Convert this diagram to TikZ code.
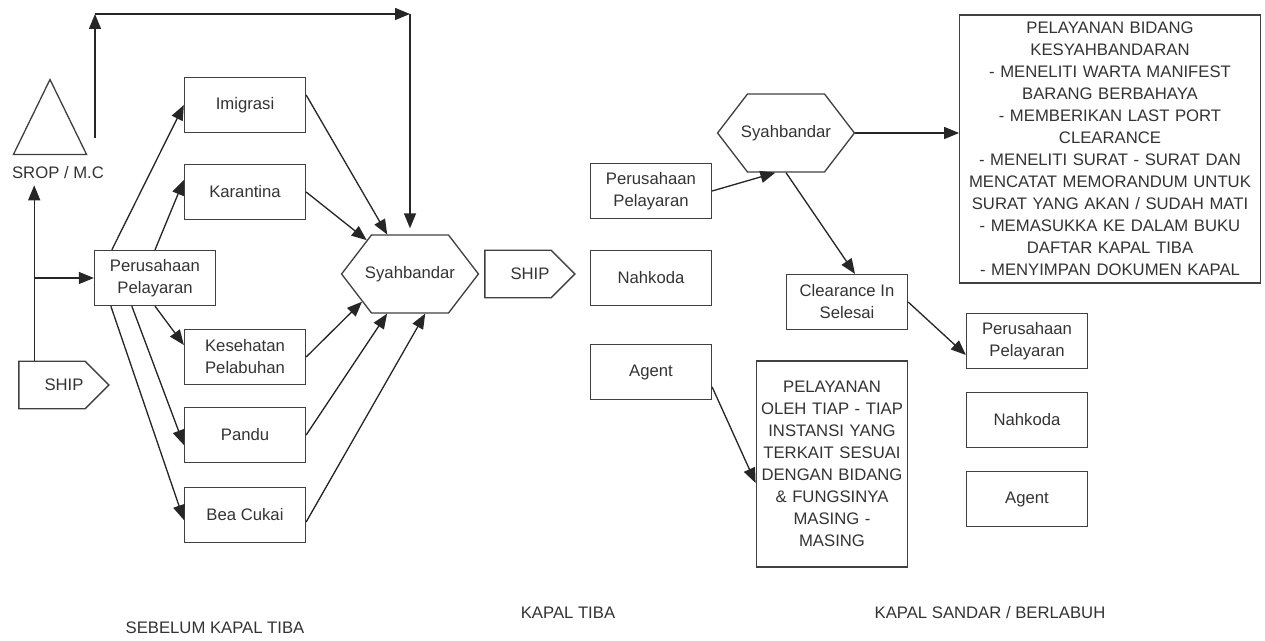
\documentclass[tikz,border=0pt]{standalone}
\usepackage{fontspec}
\setmainfont{Liberation Sans}
\usetikzlibrary{arrows.meta,shapes.geometric,shapes.symbols}
\begin{document}
\begin{tikzpicture}[x=0.02cm,y=-0.02cm,
  every node/.style={text=black!80, font=\fontsize{9.5}{12.5}\selectfont},
  box/.style={draw=black!75, line width=0.75pt, minimum width=2.42cm, minimum height=1.1cm, align=center, inner sep=2pt},
  hexa/.style={draw=black!75, line width=0.75pt, signal, signal to=east and west, signal pointer angle=105, inner xsep=-0.13cm, minimum height=1.56cm},
  shipbox/.style={draw=black!75, line width=0.75pt, signal, signal to=east, inner xsep=0pt, minimum width=1.8cm, minimum height=0.95cm},
  arr/.style={draw=black!85, line width=0.75pt, -{Triangle[length=0.3cm,width=0.24cm]}}]
\useasboundingbox (0,0) rectangle (1265,641);

\node[draw=black!75, line width=0.75pt, isosceles triangle, isosceles triangle apex angle=52,
  shape border rotate=90, minimum height=1.5cm, inner sep=0pt, anchor=apex] (tri) at (50,78) {};
\node (srop) at (58,173) {SROP / M.C};
\node[shipbox] (ship1) at (52,385) {\hspace*{0.48cm}SHIP};
\node[box] (pp1) at (155,278) {Perusahaan\\Pelayaran};
\node[box] (imi) at (245,105) {Imigrasi};
\node[box] (kar) at (245,192) {Karantina};
\node[box] (kes) at (245,357) {Kesehatan\\Pelabuhan};
\node[box] (pan) at (245,435) {Pandu};
\node[box] (bea) at (245,515) {Bea Cukai};
\node[hexa] (sy1) at (410,274) {Syahbandar};

\node[shipbox] (ship2) at (518,274) {\hspace*{0.48cm}SHIP};
\node[box] (pp2) at (651,191) {Perusahaan\\Pelayaran};
\node[box] (nah2) at (651,278) {Nahkoda};
\node[box] (ag2) at (651,372) {Agent};

\node[hexa] (sy2) at (786,133) {Syahbandar};
\node[box, text width=5.94cm, minimum height=5.36cm, inner sep=1pt] (bid) at (1110,149)
  {PELAYANAN BIDANG\\KESYAHBANDARAN\\- MENELITI WARTA MANIFEST\\BARANG BERBAHAYA\\- MEMBERIKAN LAST PORT\\CLEARANCE\\- MENELITI SURAT - SURAT DAN\\MENCATAT MEMORANDUM UNTUK\\SURAT YANG AKAN / SUDAH MATI\\- MEMASUKKA KE DALAM BUKU\\DAFTAR KAPAL TIBA\\- MENYIMPAN DOKUMEN KAPAL};
\node[box] (clr) at (847,302) {Clearance In\\Selesai};
\node[box, text width=2.96cm, minimum height=4.12cm, inner sep=1pt] (pel) at (832,464)
  {PELAYANAN\\OLEH TIAP - TIAP\\INSTANSI YANG\\TERKAIT SESUAI\\DENGAN BIDANG\\\& FUNGSINYA\\MASING -\\MASING};
\node[box] (pp3) at (1027,341) {Perusahaan\\Pelayaran};
\node[box] (nah3) at (1027,420) {Nahkoda};
\node[box] (ag3) at (1027,499) {Agent};

\node (st1) at (215,628) {SEBELUM KAPAL TIBA};
\node (st2) at (568,613) {KAPAL TIBA};
\node (st3) at (990,613) {KAPAL SANDAR / BERLABUH};

\coordinate (c0) at (95,138);
\coordinate (c1) at (95,14);
\coordinate (c2) at (sy1.north |- c1);
\draw[arr] (c0) -- (c1);
\draw[arr] (c1) -- (c2);
\draw[arr] (c2) -- ([yshift=0.12cm]sy1.north);

\coordinate (b0) at ([xshift=0.32cm]ship1.north west);
\draw[arr] (b0) -- (b0 |- srop.south);
\draw[arr] (b0 |- pp1.west) -- (pp1.west);

\draw[arr] ([xshift=0.36cm]pp1.north west) -- (imi.west);
\draw[arr] (pp1.north) -- ([yshift=0.24cm]kar.west);
\draw[arr] (pp1.south) -- ([yshift=0.24cm]kes.west);
\draw[arr] ([xshift=0.76cm]pp1.south west) -- ([yshift=-0.2cm]pan.west);
\draw[arr] ([xshift=0.34cm]pp1.south west) -- ([yshift=-0.1cm]bea.west);

\draw[arr] ([yshift=0.2cm]imi.east) -- (sy1.120);
\draw[arr] (kar.east) -- (sy1.142);
\draw[arr] (kes.east) -- (sy1.210);
\draw[arr] (pan.east) -- (sy1.240);
\draw[arr] ([yshift=-0.14cm]bea.east) -- (sy1.291);

\draw[arr] (pp2.east) -- (sy2.255);
\draw[arr] (sy2.east) -- (sy2.east -| bid.west);
\draw[arr] (sy2.south) -- ([xshift=0.16cm]clr.north);
\draw[arr] (clr.east) -- ([yshift=-0.28cm]pp3.west);
\draw[arr] ([yshift=-0.3cm]ag2.east) -- ([yshift=-0.38cm]pel.west);
\end{tikzpicture}
\end{document}
